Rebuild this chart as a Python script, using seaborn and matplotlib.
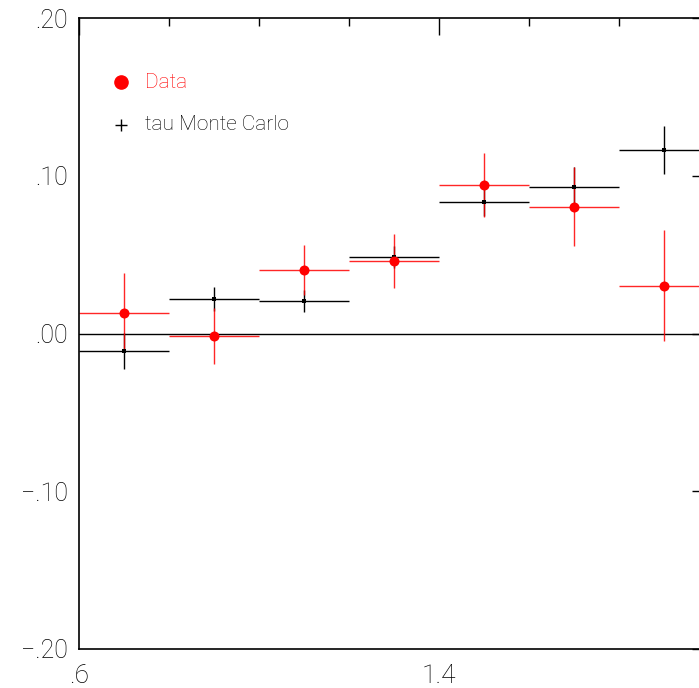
import numpy as np
import pandas as pd
import matplotlib
matplotlib.use("Agg")
import matplotlib.pyplot as plt
import seaborn as sns
from matplotlib.ticker import MultipleLocator, FixedLocator, FuncFormatter

# -----------------------------------------------------------
# datos
# -----------------------------------------------------------
bin_centros = [0.7, 0.9, 1.1, 1.3, 1.5, 1.7, 1.9]
bin_media_ancho = [0.1, 0.1, 0.1, 0.1, 0.1, 0.1, 0.1]

data_y = [0.0132, -0.0016, 0.0403, 0.0461, 0.0941, 0.0804, 0.0303]
data_err = [0.025, 0.0177, 0.016, 0.017, 0.0205, 0.025, 0.035]

mc_y = [-0.0111, 0.0217, 0.0208, 0.0483, 0.0836, 0.0927, 0.1163]
mc_err = [0.0116, 0.0076, 0.007, 0.007, 0.009, 0.0127, 0.015]

etiquetas = ["Data", "tau Monte Carlo"]

df = pd.DataFrame({
    "x": bin_centros,
    "xerr": bin_media_ancho,
    "data": data_y,
    "data_err": data_err,
    "mc": mc_y,
    "mc_err": mc_err,
})

sns.set_style("white")
plt.rcParams["font.family"] = ["Roboto", "DejaVu Sans"]
plt.rcParams["font.weight"] = "light"

fig = plt.figure(figsize=(6.99, 6.88), dpi=100)
# el eje derecho queda un poco fuera de la imagen, como en el original
ax = fig.add_axes([79 / 699, 39 / 688, 630 / 699, 631 / 688])

ax.axhline(0, color="black", lw=1.0, zorder=1)

# Monte Carlo (cruces negras)
ax.errorbar(df["x"], df["mc"], xerr=df["xerr"], yerr=df["mc_err"],
            fmt="none", ecolor="black", elinewidth=1.0, capsize=0, zorder=2)
sns.scatterplot(x="x", y="mc", data=df, ax=ax, color="black", marker="s",
                s=5, linewidth=0, zorder=3)

# Datos (circulos rojos)
ax.errorbar(df["x"], df["data"], xerr=df["xerr"], yerr=df["data_err"],
            fmt="none", ecolor="red", elinewidth=1.0, capsize=0, alpha=0.85, zorder=2)
sns.scatterplot(x="x", y="data", data=df, ax=ax, color="red", marker="o",
                s=52, linewidth=0, zorder=4)

ax.set_xlim(0.6, 2.0)
ax.set_ylim(-0.2, 0.2)

ax.xaxis.set_major_locator(FixedLocator([0.6, 1.4, 2.2]))
ax.xaxis.set_minor_locator(MultipleLocator(0.2))
ax.yaxis.set_major_locator(MultipleLocator(0.1))
ax.yaxis.set_minor_locator(MultipleLocator(0.02))


def fmt_y(v, pos):
    s = f"{abs(v):.2f}".lstrip("0")
    return ("\u2212" if v < -1e-9 else "") + s


def fmt_x(v, pos):
    s = f"{v:.1f}"
    return s[1:] if s.startswith("0") else s


ax.yaxis.set_major_formatter(FuncFormatter(fmt_y))
ax.xaxis.set_major_formatter(FuncFormatter(fmt_x))

ax.tick_params(which="both", direction="in", top=True, right=True,
               colors="black", width=1.0)
ax.tick_params(which="major", length=12, pad=8)
ax.tick_params(axis="y", which="major", labelsize=18)
ax.tick_params(axis="x", which="major", labelsize=19, pad=11)
ax.tick_params(which="minor", length=6)

for sp in ax.spines.values():
    sp.set_linewidth(1.2)
    sp.set_color("black")

ax.set_xlabel("")
ax.set_ylabel("")

# leyenda manual
ax.plot([0.693], [0.1594], marker="o", color="red", markersize=9.5, linestyle="none")
ax.text(0.747, 0.1594, etiquetas[0], color="red", fontsize=15,
        va="center", ha="left")
ax.plot([0.693], [0.1322], marker="+", color="black", markersize=8,
        markeredgewidth=1.0, linestyle="none")
ax.text(0.747, 0.1322, etiquetas[1], color="black", fontsize=15,
        va="center", ha="left")

fig.savefig("out.png", dpi=100)
